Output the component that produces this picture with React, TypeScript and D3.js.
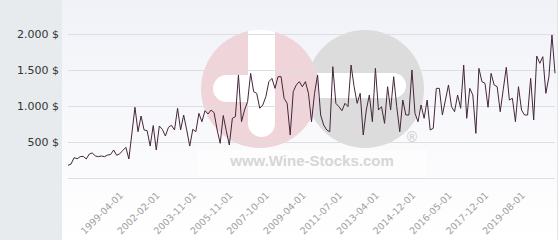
import React from 'react';
import * as d3 from 'd3';

const values: number[] = [
  176, 194, 282, 268, 296, 301, 264, 333, 347, 306, 296, 306, 296, 319, 326, 389, 315, 338, 380, 426, 264,
  623, 982, 643, 861, 667, 657, 444, 729, 389, 722, 676, 583, 704, 732, 667, 968, 667, 875, 667, 444,
  676, 643, 898, 782, 935, 889, 944, 907, 667, 482, 868, 657, 458, 829, 852, 1431,
  782, 944, 1060, 1454, 1199, 1176, 968, 1014, 1130, 1338, 1384, 1245, 1407, 1407, 1107, 1037, 597,
  1199, 1292, 1338, 1268, 1338, 1176, 782, 1176, 1431, 875, 736, 667, 643, 1546, 1037, 991, 935, 1037,
  991, 1569, 1268, 1037, 1176, 597, 944, 1153, 782, 1523, 944,
  991, 759, 1268, 944, 1407, 991, 643, 1083, 875, 875, 1500, 898, 782, 1014, 829, 1083, 667, 690,
  1245, 1245, 875, 1083, 1292, 991, 921, 1153, 968, 1569, 829, 1245, 1153, 620, 1523, 1338, 1315, 982,
  1454, 1292, 1268, 921, 1230, 1537, 1083, 1107, 782, 1268, 944, 875, 875, 1384, 806, 1694, 1593, 1685,
  1176, 1407, 1986, 1454,
];

const tickLabels: string[] = [
  '1999-04-01', '2002-02-01', '2003-11-01', '2005-11-01', '2007-10-01', '2009-04-01',
  '2011-07-01', '2013-04-01', '2014-12-01', '2016-05-01', '2017-12-01', '2019-08-01',
];
const tickStart = 18;
const tickStep = 12;

const gridValues: number[] = [0, 500, 1000, 1500, 2000];
const yLabelValues: number[] = [500, 1000, 1500, 2000];

export default function App() {
  const W = 560;
  const H = 240;
  const x = d3.scaleLinear().domain([0, values.length - 1]).range([68, 555]);
  const y = d3.scaleLinear().domain([0, 2000]).range([178, 34]);
  const line = d3.line<number>().x((_, i) => x(i)).y((d) => y(d));
  const locale = d3.formatLocale({ decimal: ',', thousands: '.', grouping: [3], currency: ['', ' $'] });
  const fmt = locale.format('$,.0f');

  return (
    <svg width={W} height={H} style={{ position: 'fixed', left: 0, top: 0 }}
      fontFamily="'DejaVu Sans', sans-serif">
      <defs>
        <linearGradient id="bg" x1="0" y1="0" x2="0" y2="1">
          <stop offset="0" stopColor="#f1f2f8" />
          <stop offset="1" stopColor="#ffffff" />
        </linearGradient>
        <clipPath id="pinkClip">
          <circle cx={260} cy={89} r={59} />
        </clipPath>
        <clipPath id="grayClip">
          <circle cx={365} cy={89} r={59} />
        </clipPath>
      </defs>
      <rect x={0} y={0} width={W} height={H} fill="#ffffff" />
      <rect x={62} y={0} width={495} height={H} fill="url(#bg)" />
      <line x1={557.5} x2={557.5} y1={0} y2={H} stroke="#e4e4e4" />
      <rect x={0} y={0} width={62} height={H} fill="#e7ebee" />

      {/* watermark */}
      <g>
        <circle cx={365} cy={89} r={59} fill="#dcdcdc" />
        <g clipPath="url(#grayClip)">
          <rect x={300} y={73} width={106} height={25} rx={12.5} fill="#ffffff" />
          <rect x={300} y={73} width={40} height={25} fill="#ffffff" />
        </g>
        <circle cx={260} cy={89} r={59} fill="#efd5da" />
        <g clipPath="url(#pinkClip)">
          <rect x={213} y={75} width={50} height={27} rx={13.5} fill="#ffffff" />
          <rect x={248} y={20} width={27} height={117} rx={13.5} fill="#ffffff" />
          <rect x={248} y={20} width={27} height={60} fill="#ffffff" />
        </g>
        <rect x={197} y={150} width={230} height={27} fill="#ffffff" opacity={0.55} />
        <text x={312} y={166} textAnchor="middle" fontFamily="'Liberation Sans', Arial, sans-serif"
          fontWeight="bold" fontSize={15} fill="#d6d6d6">www.Wine-Stocks.com</text>
        <text x={412} y={142} textAnchor="middle" fontFamily="'Liberation Sans', Arial, sans-serif"
          fontWeight="bold" fontSize={14} fill="#d4d4d4">®</text>
      </g>

      {gridValues.map((v) => (
        <line key={v} x1={68} x2={555} y1={Math.round(y(v)) + 0.5} y2={Math.round(y(v)) + 0.5}
          stroke="#dedede" strokeWidth={1} />
      ))}
      {yLabelValues.map((v) => (
        <text key={v} x={59} y={y(v)} dy="0.35em" textAnchor="end" fontSize={11} fill="#333333">
          {fmt(v)}
        </text>
      ))}
      {tickLabels.map((t, k) => {
        const i = tickStart + k * tickStep;
        return (
          <text key={t} transform={`translate(${x(i) + 1},${196}) rotate(-45)`} textAnchor="end"
            fontSize={9.5} fill="#a0a0a0">{t}</text>
        );
      })}
      <path d={line(values) || ''} fill="none" stroke="#45263a" strokeWidth={1} strokeLinejoin="round" />
    </svg>
  );
}
